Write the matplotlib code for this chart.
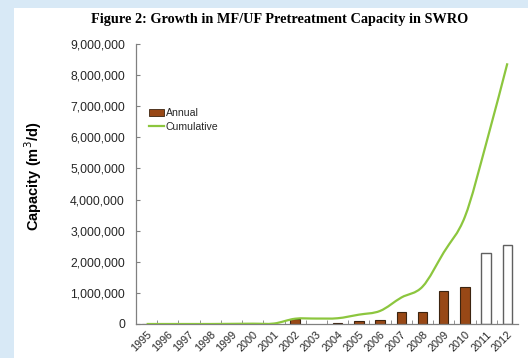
import numpy as np
import matplotlib
matplotlib.use("Agg")
import matplotlib.pyplot as plt
from matplotlib.path import Path
from matplotlib.patches import PathPatch, Patch, Rectangle
from matplotlib.lines import Line2D
from matplotlib.ticker import FuncFormatter, MultipleLocator, FixedLocator

# ── Data ─────────────────────────────────────────────────────────────────────
YEARS = ["1995", "1996", "1997", "1998", "1999", "2000", "2001", "2002", "2003",
         "2004", "2005", "2006", "2007", "2008", "2009", "2010", "2011", "2012"]
ANNUAL = [15000, 0, 0, 0, 0, 0, 0, 150000, 0,
          20000, 110000, 140000, 400000, 400000, 1060000, 1200000, 2270000, 2530000]
CUMULATIVE = [0, 0, 0, 0, 5000, 10000, 15000, 170000, 175000,
              185000, 300000, 420000, 850000, 1200000, 2300000, 3450000, 5800000, 8380000]
FORECAST = [False] * 16 + [True, True]   # 2011-2012 drawn as hollow bars

# ── Style ────────────────────────────────────────────────────────────────────
BROWN = "#984816"
GREEN = "#8cc63e"
AXIS = "#808080"
TXT = "#262626"

plt.rcParams["font.family"] = ["Liberation Sans", "DejaVu Sans"]

fig = plt.figure(figsize=(5.28, 3.58), dpi=100)
fig.patch.set_facecolor("white")
# light blue page strips (left and top)
fig.patches.append(Rectangle((0, 0), 14 / 528, 1, transform=fig.transFigure,
                             facecolor="#d8e9f6", edgecolor="none", zorder=0))
fig.patches.append(Rectangle((0, 1 - 8 / 358), 1, 8 / 358, transform=fig.transFigure,
                             facecolor="#d8e9f6", edgecolor="none", zorder=0))

ax = fig.add_axes([136 / 528, 1 - 324 / 358, 382 / 528, 280 / 358])
x = np.arange(len(YEARS))

# bars
for xi, v, fc in zip(x, ANNUAL, FORECAST):
    if v <= 0:
        continue
    if fc:
        ax.bar(xi, v, width=0.45, facecolor="white", edgecolor="#606060", linewidth=1.0, zorder=2)
    else:
        ax.bar(xi, v, width=0.45, facecolor=BROWN, edgecolor="#3c2410", linewidth=0.8, zorder=2)

# smoothed cumulative line (Bezier through the points, like Excel)
xs = x.astype(float)
ys = np.array(CUMULATIVE, dtype=float)
verts = [(xs[0], ys[0])]
codes = [Path.MOVETO]
n = len(xs)
for i in range(n - 1):
    p0 = np.array([xs[max(i - 1, 0)], ys[max(i - 1, 0)]])
    p1 = np.array([xs[i], ys[i]])
    p2 = np.array([xs[i + 1], ys[i + 1]])
    p3 = np.array([xs[min(i + 2, n - 1)], ys[min(i + 2, n - 1)]])
    c1 = p1 + (p2 - p0) / 6
    c2 = p2 - (p3 - p1) / 6
    verts += [tuple(c1), tuple(c2), tuple(p2)]
    codes += [Path.CURVE4] * 3
ax.add_patch(PathPatch(Path(verts, codes), facecolor="none", edgecolor=GREEN,
                       linewidth=1.6, zorder=3))

# axes
ax.set_xlim(-0.5, len(YEARS) - 0.5)
ax.set_ylim(0, 9000000)
ax.yaxis.set_major_locator(MultipleLocator(1000000))
ax.yaxis.set_major_formatter(FuncFormatter(lambda v, p: f"{int(v):,}"))
ax.set_xticks(x)
ax.set_xticklabels(YEARS, rotation=45, ha="right", va="top", rotation_mode="anchor",
                   fontsize=7.8, color=TXT)
ax.xaxis.set_minor_locator(FixedLocator(np.arange(0.5, len(YEARS) - 0.5, 1)))
ax.tick_params(axis="x", which="major", length=0, pad=4)
ax.tick_params(axis="x", which="minor", length=3, direction="in", color=AXIS)
ax.tick_params(axis="y", length=3, direction="in", color=AXIS, labelsize=8.8, labelcolor=TXT, pad=8)

for s in ["top", "right"]:
    ax.spines[s].set_visible(False)
for s in ["left", "bottom"]:
    ax.spines[s].set_color(AXIS)
    ax.spines[s].set_linewidth(0.9)

fig.text(33 / 528, 1 - 176 / 358, "Capacity (m$^3$/d)", rotation=90, ha="center",
         va="center", fontsize=10.5, fontweight="bold", color="black")

fig.text(280 / 528, 1 - 20 / 358, "Figure 2: Growth in MF/UF Pretreatment Capacity in SWRO",
         ha="center", va="center", fontsize=10.3, fontweight="bold",
         family=["Liberation Serif", "DejaVu Serif"], color="black")

handles = [Patch(facecolor=BROWN, edgecolor="#3c2410", linewidth=0.6),
           Line2D([0], [0], color=GREEN, linewidth=1.6)]
ax.legend(handles, ["Annual", "Cumulative"], loc="upper left", bbox_to_anchor=(0.02, 0.79),
          frameon=False, fontsize=7.6, handlelength=1.4, handleheight=0.6,
          handletextpad=0.2, labelspacing=0.35, borderpad=0, labelcolor=TXT)

fig.savefig("out.png", dpi=100)
